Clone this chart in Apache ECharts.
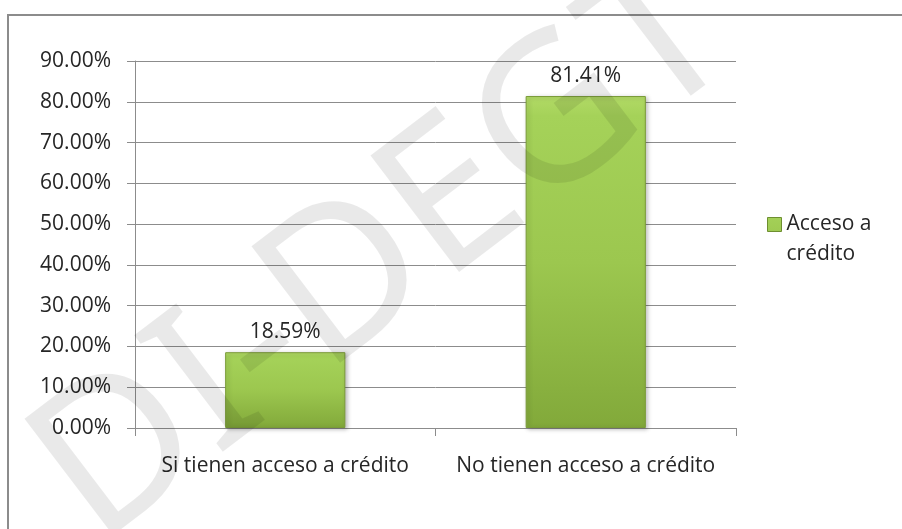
<!DOCTYPE html>
<html>
<head>
<meta charset="utf-8">
<script src="https://cdn.jsdelivr.net/npm/echarts@6/dist/echarts.min.js"></script>
<style>
  html, body { margin: 0; padding: 0; background: #fff; }
  #chart { width: 902px; height: 529px; }
</style>
</head>
<body>
<div id="chart"></div>
<script>
// categorias y valores (porcentaje)
const categories = ['Si tienen acceso a crédito', 'No tienen acceso a crédito']
const accesoCredito = [18.59, 81.41]
const seriesName = 'Acceso a crédito'
const yMin = 0
const yMax = 90
const yStep = 10

const textColor = '#262626'
const lineColor = '#8c8c8c'
const fontFamily = '"Open Sans", "Noto Sans", sans-serif'

const barGradient = () => new echarts.graphic.LinearGradient(0, 0, 0, 1, [
  { offset: 0, color: '#b2da66' },
  { offset: 0.06, color: '#a5d259' },
  { offset: 0.5, color: '#9cc74f' },
  { offset: 1, color: '#82a93a' }
])

const chart = echarts.init(document.getElementById('chart'))

const option = {
  backgroundColor: '#fff',
  animation: false,
  textStyle: { fontFamily: fontFamily },
  grid: { left: 135, right: 166, top: 61, bottom: 101 },
  legend: {
    data: [seriesName],
    left: 762,
    top: 204,
    // cuadro arriba, alineado con la primera linea del texto
    icon: 'path://M0,8h14v14h-14z M0,0 M14,60',
    itemWidth: 14,
    itemHeight: 60,
    itemGap: 0,
    itemStyle: { color: barGradient(), borderColor: '#6e8f30', borderWidth: 1 },
    formatter: () => 'Acceso a\ncrédito',
    textStyle: {
      color: textColor,
      fontSize: 21,
      lineHeight: 30
    }
  },
  xAxis: {
    type: 'category',
    data: categories,
    axisLine: { lineStyle: { color: lineColor, width: 1 } },
    axisTick: { show: true, length: 8, lineStyle: { color: lineColor } },
    axisLabel: { color: textColor, fontSize: 21, margin: 28, interval: 0, hideOverlap: false }
  },
  yAxis: {
    type: 'value',
    min: yMin,
    max: yMax,
    interval: yStep,
    axisLine: { show: true, lineStyle: { color: lineColor, width: 1 } },
    axisTick: { show: true, length: 8, lineStyle: { color: lineColor } },
    axisLabel: {
      color: textColor,
      fontSize: 21,
      margin: 24,
      formatter: v => v.toFixed(2) + '%'
    },
    splitLine: { show: true, lineStyle: { color: lineColor, width: 1 } }
  },
  series: [
    {
      name: seriesName,
      type: 'bar',
      data: accesoCredito,
      barWidth: '40%',
      itemStyle: {
        color: barGradient(),
        borderColor: '#7a9b38',
        borderWidth: 1,
        shadowColor: 'rgba(0,0,0,0.25)',
        shadowBlur: 4,
        shadowOffsetX: 2,
        shadowOffsetY: 1
      },
      label: {
        show: true,
        position: 'top',
        distance: 10,
        color: textColor,
        fontSize: 21,
        formatter: p => p.value.toFixed(2) + '%'
      }
    }
  ],
  graphic: [
    {
      // marco del grafico
      type: 'rect',
      silent: true,
      shape: { x: 8, y: 15, width: 1000, height: 1000 },
      style: { fill: 'none', stroke: '#8c8c8c', lineWidth: 2 }
    },
    {
      // marca de agua
      type: 'text',
      silent: true,
      z: 100,
      x: 385,
      y: 255,
      rotation: 0.65,
      style: {
        text: 'DI-DEGT',
        fontSize: 205,
        fontFamily: '"Noto Sans", sans-serif',
        fill: 'rgba(0,0,0,0.085)',
        align: 'center',
        verticalAlign: 'middle'
      }
    }
  ]
}

chart.setOption(option)
</script>
</body>
</html>
